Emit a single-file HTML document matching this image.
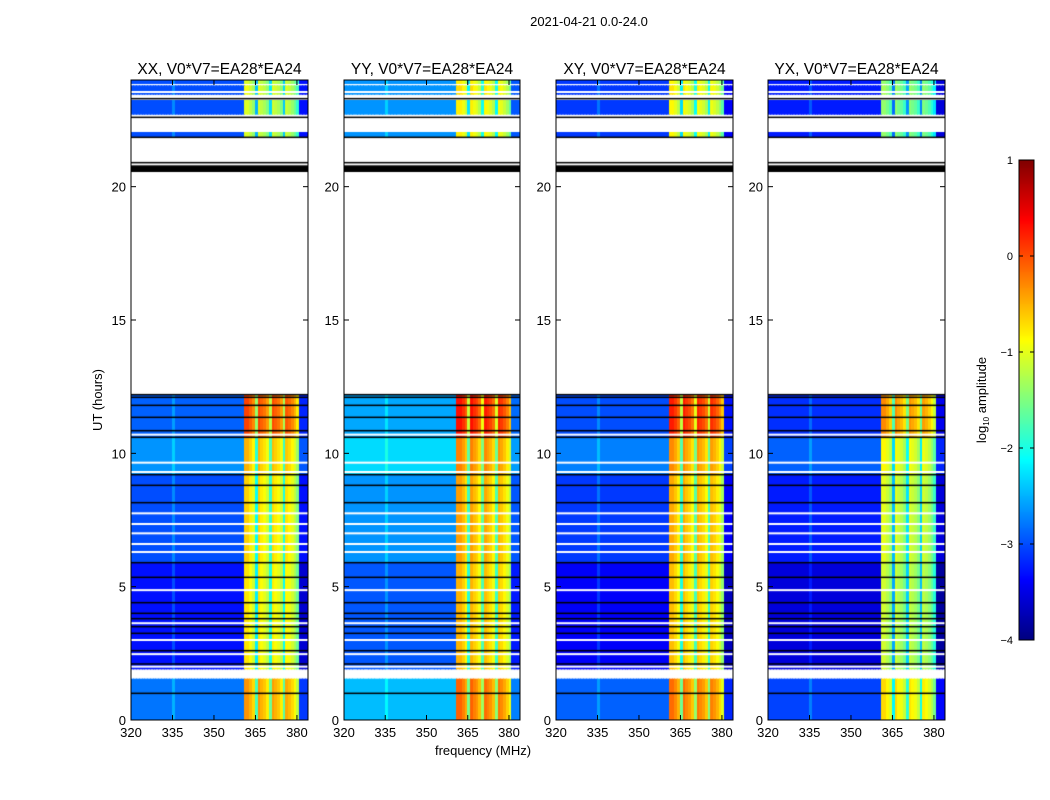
<!DOCTYPE html>
<html><head><meta charset="utf-8">
<style>
body{margin:0;background:#fff;width:1050px;height:800px;overflow:hidden;position:relative;font-family:"Liberation Sans",sans-serif}
canvas{position:absolute}
svg{position:absolute;left:0;top:0}
</style></head>
<body>
<canvas id="c0" width="177" height="640" style="left:131px;top:80px"></canvas>
<canvas id="c1" width="176" height="640" style="left:344px;top:80px"></canvas>
<canvas id="c2" width="177" height="640" style="left:556px;top:80px"></canvas>
<canvas id="c3" width="177" height="640" style="left:768px;top:80px"></canvas>
<canvas id="cb" width="15" height="480" style="left:1019px;top:160px"></canvas>
<svg id="ov" width="1050" height="800"></svg>
<script>
// ---- data ----
const panelNames=["XX, V0*V7=EA28*EA24","YY, V0*V7=EA28*EA24","XY, V0*V7=EA28*EA24","YX, V0*V7=EA28*EA24"];
const panelBgOffset=[0,0.35,-0.1,-0.25];
const panelBandOffset=[0,0.25,0.2,-0.35];
// freq bins 320..383 (1 MHz); isBand marks the bright spectral windows
const specOffset=[0,0,0,0,0,0,0,0,0,0,0,0,0,0,0,0.3,0,0,0,0,0,0,0,0,0,0,0,0,0,0,0,0,0,0,0,0,0,0,0,0,0,
 0.25,0.25,0.1,-0.1,-1.2,0.25,0.1,0,-0.2,-1.0,0.2,0.1,0,-0.2,-1.1,0.15,0.05,-0.1,-0.3,-0.6,-0.3,-0.3,-0.3];
const isBand=[0,0,0,0,0,0,0,0,0,0,0,0,0,0,0,0,0,0,0,0,0,0,0,0,0,0,0,0,0,0,0,0,0,0,0,0,0,0,0,0,0,
 1,1,1,1,1,1,1,1,1,1,1,1,1,1,1,1,1,1,1,1,0,0,0];
// time segments (hours) with background and band levels
const segStart=[0,1.9,5.9,9.2,10.6,21.85,22.7,23.45,23.85];
const segEnd=[1.55,5.9,9.2,10.6,12.2,22.05,23.25,23.8,24];
const segBg=[-2.8,-3.3,-3.0,-2.65,-2.9,-3.0,-3.0,-3.0,-3.0];
const segBand=[-0.6,-1.0,-0.9,-0.75,-0.2,-1.3,-1.3,-1.2,-1.3];
const blackLines=[1.0,2.1,2.6,3.25,3.5,3.8,4.0,4.4,5.35,5.9,8.15,8.8,9.2,10.6,10.85,11.35,11.8,12.1,12.2,20.9,21.85,22.6,23.3];
const whiteLines=[2.0,2.47,3.0,3.63,4.87,6.3,6.6,7.0,7.35,7.75,9.3,9.65,10.7,23.55];
const blackBand=[20.55,20.8];
const xTicks=[320,335,350,365,380];
const yTicks=[0,5,10,15,20];
const cbTicks=[1,0,-1,-2,-3,-4];
// ---- scales ----
const X0=[131,344,556,768],PW=[177,176,177,177],PT=80,PH=640;
const fMin=320,fMax=384,tMin=0,tMax=24,vMin=-4,vMax=1;
const fx=(f,p)=>(f-fMin)/(fMax-fMin)*PW[p];
const ty=t=>PH-(t-tMin)/(tMax-tMin)*PH;
function jet(v){let t=(v-vMin)/(vMax-vMin);t=Math.max(0,Math.min(1,t));
 const c=x=>Math.round(255*Math.max(0,Math.min(1,x)));
 return `rgb(${c(1.5-Math.abs(4*t-3))},${c(1.5-Math.abs(4*t-2))},${c(1.5-Math.abs(4*t-1))})`;}
for(let p=0;p<4;p++){
 const ctx=document.getElementById('c'+p).getContext('2d');
 ctx.fillStyle='#fff';ctx.fillRect(0,0,PW[p],PH);
 for(let s=0;s<segStart.length;s++){
  const y1=ty(segEnd[s]),y2=ty(segStart[s]);
  for(let i=0;i<specOffset.length;i++){
   const v=isBand[i]?segBand[s]+panelBandOffset[p]+specOffset[i]:segBg[s]+panelBgOffset[p]+specOffset[i];
   ctx.fillStyle=jet(v);
   const xa=fx(fMin+i,p),xb=fx(fMin+i+1,p);
   ctx.fillRect(Math.floor(xa),y1,Math.ceil(xb)-Math.floor(xa),y2-y1);
  }
 }
 ctx.fillStyle='#fff';whiteLines.forEach(t=>ctx.fillRect(0,ty(t)-1,PW[p],2));
 ctx.fillStyle='#000';blackLines.forEach(t=>ctx.fillRect(0,ty(t)-0.75,PW[p],1.5));
 ctx.fillRect(0,ty(blackBand[1]),PW[p],ty(blackBand[0])-ty(blackBand[1]));
}
const cb=document.getElementById('cb').getContext('2d');
for(let y=0;y<480;y++){cb.fillStyle=jet(vMax-(y+0.5)/480*(vMax-vMin));cb.fillRect(0,y,15,1);}
// ---- overlay ----
const ov=document.getElementById('ov');const NS='http://www.w3.org/2000/svg';
function mk(tag,attrs,txt){const e=document.createElementNS(NS,tag);for(const k in attrs)e.setAttribute(k,attrs[k]);if(txt!==undefined)e.textContent=txt;ov.appendChild(e);return e;}
let e=mk('text',{x:589,y:26,'font-size':13,'text-anchor':'middle'},'2021-04-21 0.0-24.0');


for(let p=0;p<4;p++){
 const x0=X0[p];
 e=mk('rect',{x:x0,y:PT,width:PW[p],height:PH,fill:'none',stroke:'#000','stroke-width':1});
 
 
 e=mk('text',{x:x0+PW[p]/2,y:74,'font-size':15.5,'text-anchor':'middle'},panelNames[p]);
 
 
 xTicks.forEach(f=>{const x=x0+fx(f,p);
  mk('line',{x1:x,x2:x,y1:PT+PH,y2:PT+PH-5,stroke:'#000'});mk('line',{x1:x,x2:x,y1:PT,y2:PT+5,stroke:'#000'});
  e=mk('text',{x:x,y:737,'font-size':13,'text-anchor':'middle'},f);
  
  });
 yTicks.forEach(t=>{const y=PT+ty(t);
  mk('line',{x1:x0,x2:x0+5,y1:y,y2:y,stroke:'#000'});mk('line',{x1:x0+PW[p],x2:x0+PW[p]-5,y1:y,y2:y,stroke:'#000'});
  e=mk('text',{x:x0-5,y:y+5,'font-size':13,'text-anchor':'end'},t);
  
  });
}
e=mk('text',{x:483,y:755,'font-size':13,'text-anchor':'middle'},'frequency (MHz)');


e=mk('text',{x:0,y:0,'font-size':13,'text-anchor':'middle',transform:'translate(102,400) rotate(-90)'},'UT (hours)');


e=mk('rect',{x:1019,y:160,width:15,height:480,fill:'none',stroke:'#000'});


cbTicks.forEach(v=>{const y=160+(vMax-v)/(vMax-vMin)*480;
 mk('line',{x1:1019,x2:1023,y1:y,y2:y,stroke:'#000'});mk('line',{x1:1034,x2:1030,y1:y,y2:y,stroke:'#000'});
 e=mk('text',{x:1013,y:y+4,'font-size':11,'text-anchor':'end'},v<0?'\u2212'+(-v):v);
 
 });
e=mk('text',{x:0,y:0,'font-size':13,'text-anchor':'middle',transform:'translate(986,400) rotate(-90)'});
e.innerHTML='log<tspan font-size="8" dy="3">10</tspan><tspan dy="-3"> amplitude</tspan>';


</script>
</body></html>
